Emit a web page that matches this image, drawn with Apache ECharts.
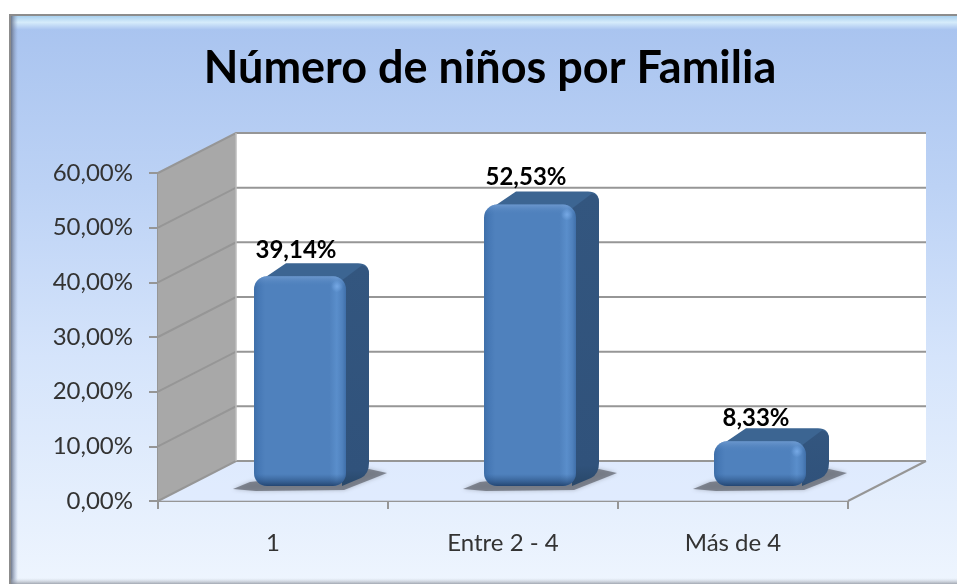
<!DOCTYPE html>
<html><head><meta charset="utf-8">
<style>html,body{margin:0;padding:0;background:#fff}#c{width:957px;height:584px}</style>
<script src="https://cdn.jsdelivr.net/npm/echarts@6/dist/echarts.min.js"></script>
</head><body><div id="c"></div>
<script>
const categories = ['1', 'Entre 2 - 4', 'Más de 4'];
const percents = [39.14, 52.53, 8.33];
const yTicks = [0, 10, 20, 30, 40, 50, 60];
const titleText = 'Número de niños por Familia';

const fmt = v => v.toFixed(2).replace('.', ',') + '%';
const chart = echarts.init(document.getElementById('c'));
const WALL = [78, -40];        // front-to-back depth of the plot box
const BAR_F = [27, -15];       // bar front face offset from axis plane
const BAR_D = [23, -13];       // bar depth
const BAR_SCALE = 0.98;        // the mid-depth bars are drawn slightly shorter by the 3D projection
const linear = (x0, y0, x2, y2, stops) => ({type: 'linear', x: x0, y: y0, x2, y2, colorStops: stops.map(s => ({offset: s[0], color: s[1]}))});

function renderWalls(params, api) {
  if (params.dataIndex !== 0) return null;
  const x0 = params.coordSys.x, w = params.coordSys.width;
  const y0 = api.coord([0, 0])[1], yT = api.coord([0, 60])[1];
  const x1 = x0 + w;
  const [dx, dy] = WALL;
  const kids = [
    {type: 'polygon', shape: {points: [[x0, y0], [x0 + dx, y0 + dy], [x1 + dx, y0 + dy], [x1, y0]]}, style: {fill: 'rgba(222,234,253,0.7)'}},
    {type: 'rect', shape: {x: x0 + dx, y: yT + dy, width: w, height: y0 - yT}, style: {fill: '#fff'}},
    {type: 'polygon', shape: {points: [[x0, y0], [x0 + dx, y0 + dy], [x0 + dx, yT + dy], [x0, yT]]}, style: {fill: '#a8a8a8'}},
  ];
  yTicks.forEach(t => {
    const y = api.coord([0, t])[1];
    kids.push({type: 'polyline', shape: {points: [[x0, y], [x0 + dx, y + dy], [x1 + dx, y + dy]]}, style: {fill: null, stroke: '#969696', lineWidth: 2}});
  });
  kids.push({type: 'line', shape: {x1: x0 + dx, y1: yT + dy, x2: x0 + dx, y2: y0 + dy}, style: {stroke: '#bdbdbd', lineWidth: 1.5}});
  kids.push({type: 'line', shape: {x1: x1, y1: y0, x2: x1 + dx, y2: y0 + dy}, style: {stroke: '#969696', lineWidth: 2}});
  return {type: 'group', children: kids};
}

function renderBar(params, api) {
  const c = api.coord([api.value(0), api.value(1)]);
  const base = api.coord([api.value(0), 0]);
  const bw = api.size([1, 0])[0] * 0.4;
  const x0 = c[0] - bw / 2 + BAR_F[0], x1 = x0 + bw;
  const yB = base[1] + BAR_F[1];
  const yT = yB - (base[1] - c[1]) * BAR_SCALE;
  const [dx, dy] = BAR_D;
  const r = Math.min(13, (yB - yT) / 2);
  const topPath = `M${x0 + 1} ${yT + 8} L${x0 + 32} ${yT + dy} L${x1 + dx - 11} ${yT + dy} Q${x1 + dx} ${yT + dy} ${x1 + dx} ${yT + dy + 11} L${x1} ${yT + r} L${x1 - r} ${yT + 4} Z`;
  const sidePath = `M${x1 - 4} ${yT + 4} L${x1 + dx - 7} ${yT + dy + 2} Q${x1 + dx} ${yT + dy + 3} ${x1 + dx} ${yT + dy + 11} L${x1 + dx} ${yB + dy - 10} Q${x1 + dx} ${yB + dy + 1} ${x1 + dx - 8} ${yB + dy + 5} L${x1 - 4} ${yB} Z`;
  const shadow = [[x0 - 21, yB + 3], [x0 - 4, yB - 4], [x1 + dx, yB + dy - 4], [x1 + 41, yB - 13], [x1 + 26, yB - 7], [x1 - 2, yB + 4], [x0 + 2, yB + 5]];
  const hl = {x: x1 - 9, y: yT + 10};
  return {type: 'group', children: [
    {type: 'polygon', shape: {points: shadow}, style: {fill: 'rgba(95,100,110,0.72)', shadowBlur: 4, shadowColor: 'rgba(95,100,110,0.55)'}},
    {type: 'path', shape: {pathData: topPath}, style: {fill: '#3c6592'}},
    {type: 'path', shape: {pathData: sidePath}, style: {fill: linear(0, 0, 0, 1, [[0, '#33567f'], [0.93, '#30527b'], [1, '#284768']])}},
    {type: 'rect', shape: {x: x0, y: yT, width: bw, height: yB - yT, r}, style: {fill: linear(0, 0, 1, 0, [[0, '#3f6fa9'], [0.05, '#4678b5'], [0.12, '#4f81bd'], [0.82, '#4f81bd'], [0.9, '#5a8ecb'], [0.96, '#4f81bd'], [1, '#3f6fa9']])}},
    {type: 'rect', shape: {x: x0, y: yT, width: bw, height: yB - yT, r}, style: {fill: linear(0, 0, 0, 1, [[0, 'rgba(125,165,215,0.6)'], [Math.min(0.35, 10 / (yB - yT)), 'rgba(79,129,189,0)'], [Math.max(0.5, 1 - 12 / (yB - yT)), 'rgba(40,80,130,0)'], [1, 'rgba(25,55,95,0.8)']])}},
    {type: 'circle', shape: {cx: hl.x, cy: hl.y, r: 6}, style: {fill: {type: 'radial', x: 0.5, y: 0.5, r: 0.5, colorStops: [{offset: 0, color: 'rgba(125,175,235,0.8)'}, {offset: 1, color: 'rgba(125,175,235,0)'}]}}},
    {type: 'text', x: c[0] + 23, y: c[1] + BAR_F[1] - 22, style: {text: fmt(api.value(1)), font: 'bold 24px Lato', fill: '#000', align: 'center', verticalAlign: 'middle'}},
  ]};
}

chart.setOption({
  animation: false,
  graphic: [
    {type: 'rect', silent: true, z: -10, shape: {x: 9, y: 14, width: 948, height: 570}, style: {fill: '#8c8c8c'}},
    {type: 'rect', silent: true, z: -9, shape: {x: 11, y: 16, width: 946, height: 568},
      style: {fill: linear(0, 0, 0, 1, [[0, '#a8c3ef'], [0.3, '#bcd2f5'], [0.6, '#d5e4fb'], [1, '#eef5fe']])}},
    {type: 'rect', silent: true, z: -8, shape: {x: 11, y: 16, width: 946, height: 14}, style: {fill: linear(0, 0, 0, 1, [[0, '#a9d0ee'], [0.45, '#d6ecfb'], [1, '#a8c3ef']])}},
    {type: 'rect', silent: true, z: -8, shape: {x: 11, y: 16, width: 7, height: 568}, style: {fill: linear(0, 0, 1, 0, [[0, 'rgba(100,110,130,0.9)'], [1, 'rgba(140,160,200,0)']])}},
    {type: 'rect', silent: true, z: -8, shape: {x: 11, y: 578, width: 946, height: 6}, style: {fill: linear(0, 0, 0, 1, [[0, 'rgba(200,205,215,0)'], [1, 'rgba(130,135,145,0.7)']])}},
    {type: 'text', silent: true, z: 5, x: 490, y: 68, style: {text: titleText, font: 'bold 45px Lato', fill: '#000', align: 'center', verticalAlign: 'middle'}},
  ],
  grid: {left: 158, top: 173, width: 690, height: 328, containLabel: false},
  xAxis: {type: 'category', data: categories, boundaryGap: true,
    axisLine: {show: true, lineStyle: {color: '#969696', width: 2}},
    axisTick: {show: true, length: 8, alignWithLabel: false, lineStyle: {color: '#969696', width: 2}},
    axisLabel: {color: '#333', fontFamily: 'Lato', fontSize: 24, margin: 30, interval: 0},
    splitLine: {show: false}},
  yAxis: {type: 'value', min: 0, max: 60, interval: 10,
    axisLine: {show: true, lineStyle: {color: '#969696', width: 2}},
    axisTick: {show: true, length: 9, lineStyle: {color: '#969696', width: 2}},
    axisLabel: {color: '#333', fontFamily: 'Lato', fontSize: 24, margin: 25, formatter: v => fmt(v)},
    splitLine: {show: false}},
  series: [
    {type: 'custom', coordinateSystem: 'cartesian2d', z: 1, silent: true, renderItem: renderWalls, clip: false,
     data: categories.map((c, i) => [i, 0])},
    {type: 'custom', coordinateSystem: 'cartesian2d', z: 3, silent: true, renderItem: renderBar, clip: false,
     encode: {x: 0, y: 1}, data: percents.map((v, i) => [i, v])},
  ],
});
</script></body></html>
